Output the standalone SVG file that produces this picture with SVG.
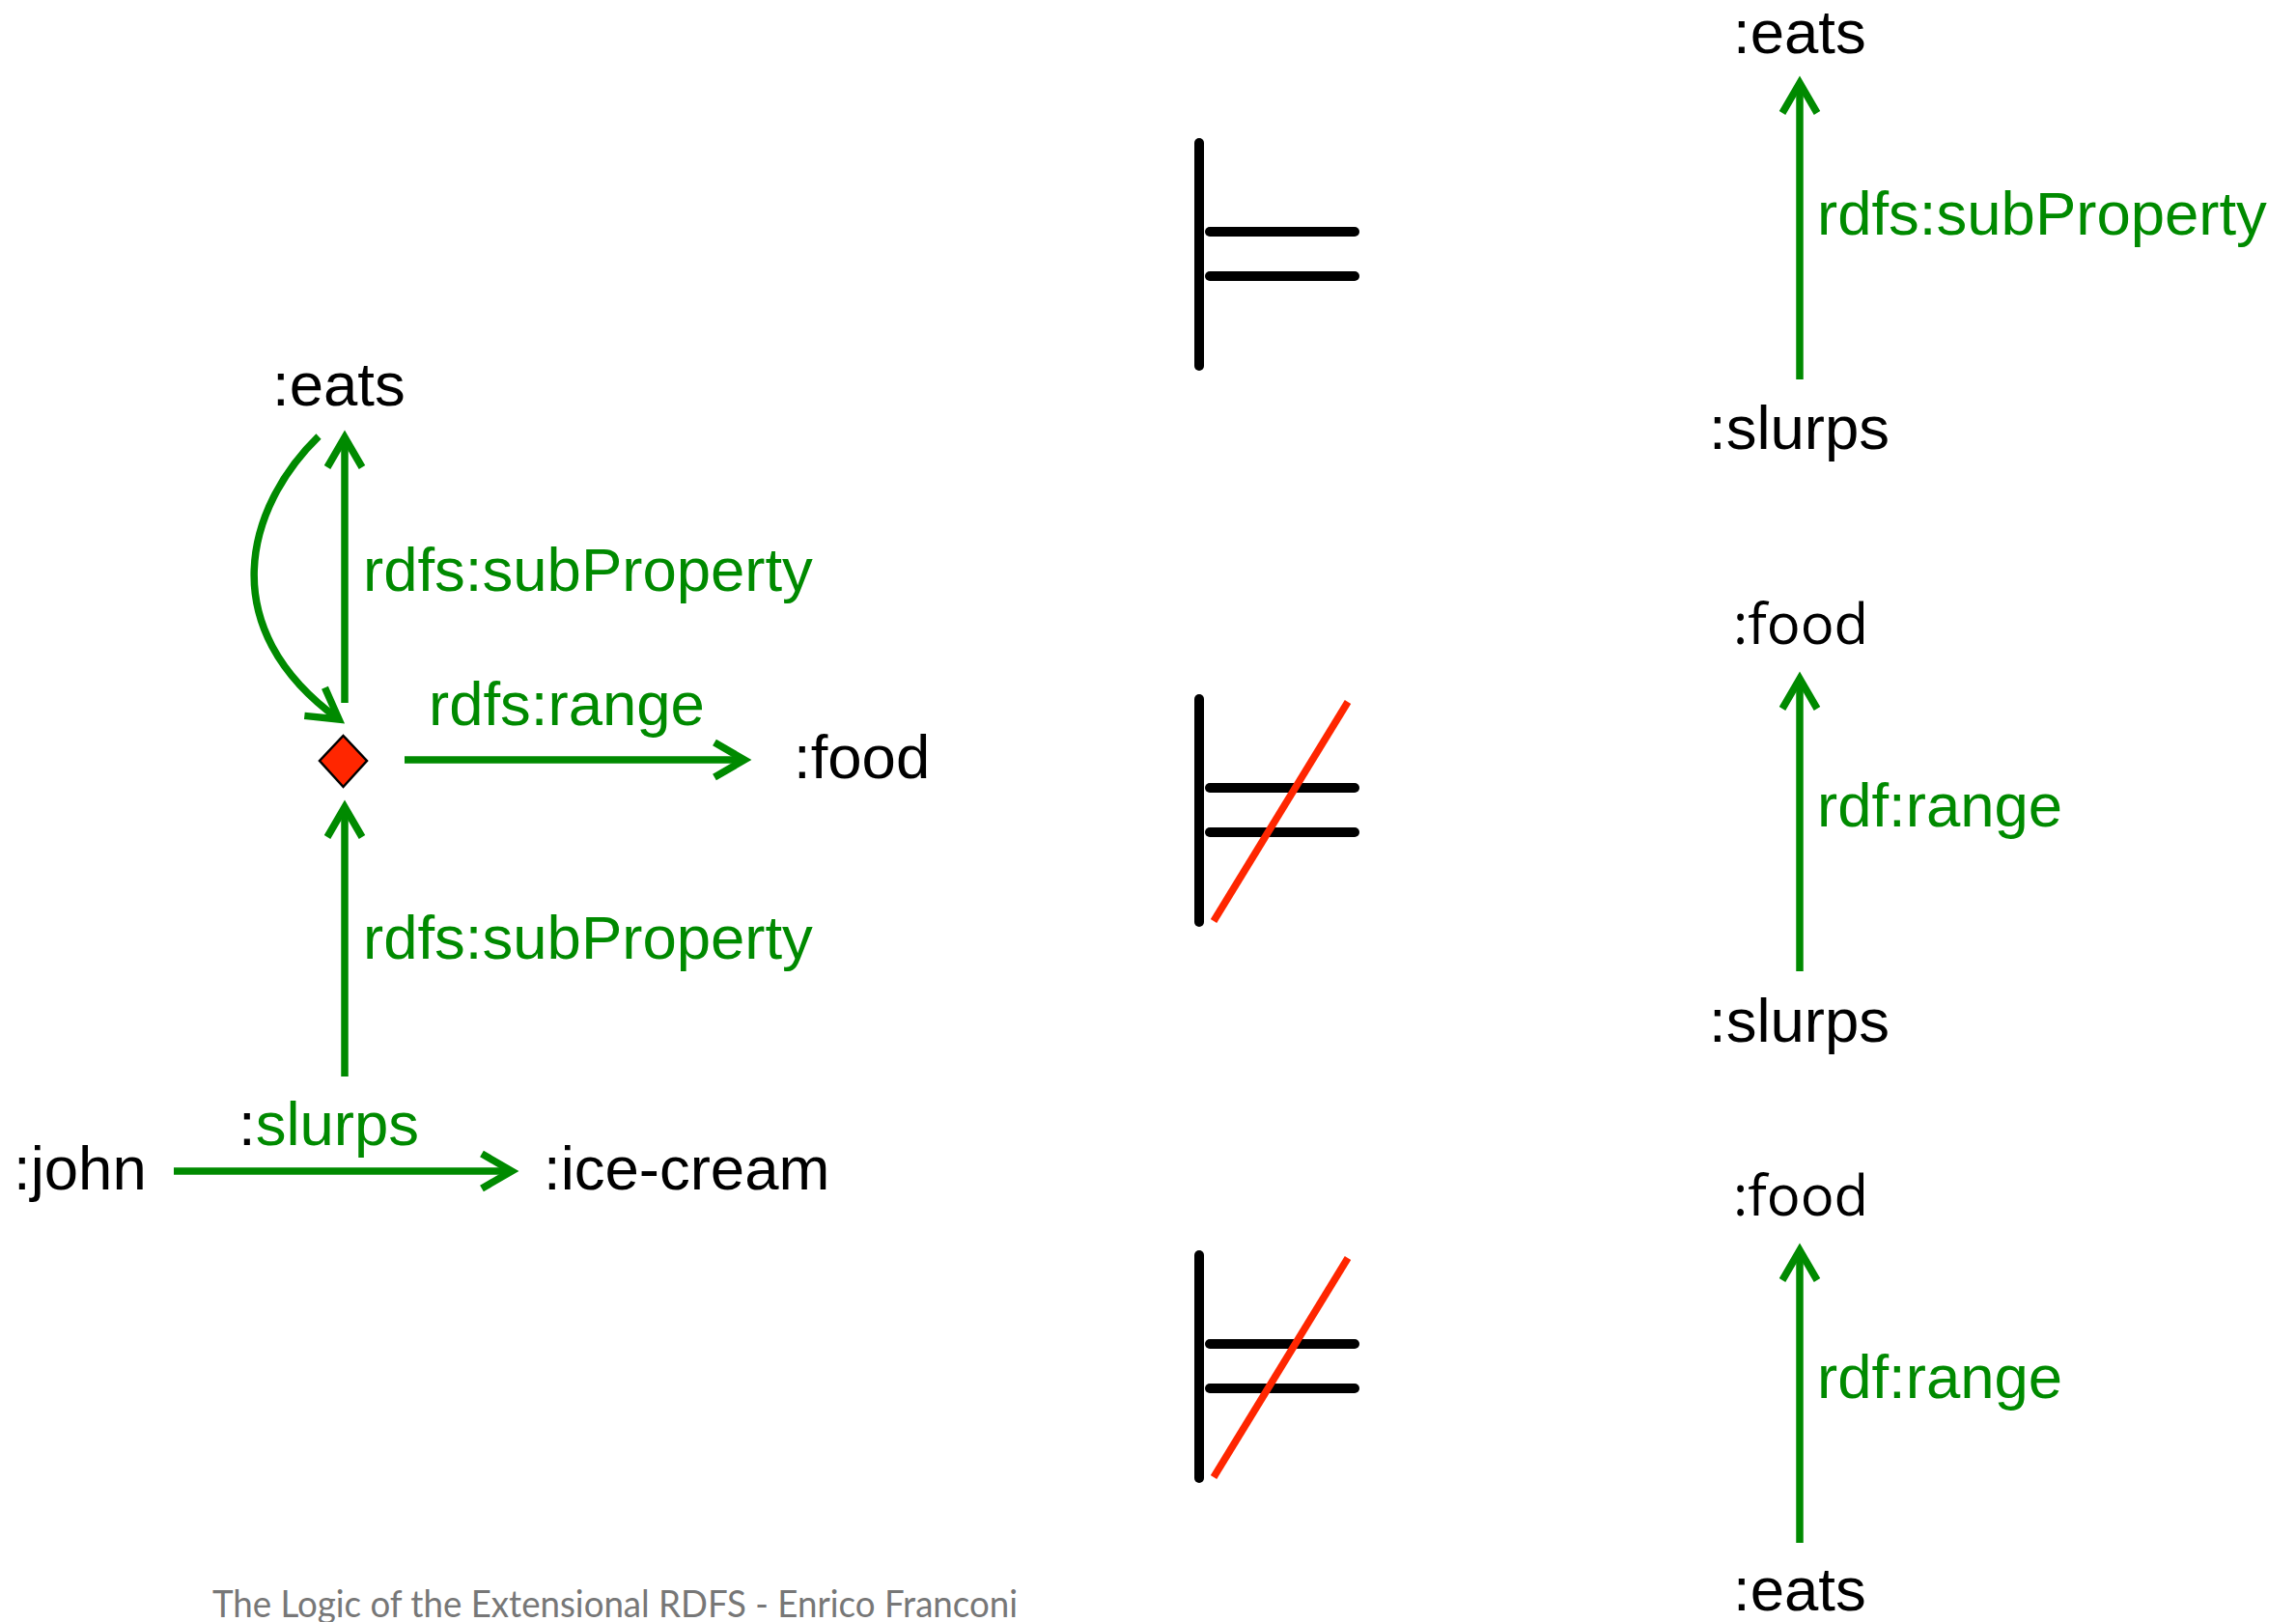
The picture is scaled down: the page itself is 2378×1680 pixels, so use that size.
<svg xmlns="http://www.w3.org/2000/svg" width="2378" height="1680" viewBox="0 0 2378 1680">
<style>
.t{font-family:"Liberation Sans",Arial,sans-serif;font-size:63.5px;fill:#000}
.g{font-family:"Liberation Sans",Arial,sans-serif;font-size:63.5px;fill:#008a00}
.o{font-family:"Open Sans","Liberation Sans",sans-serif;font-size:58px;fill:#000}
.e{fill:none;stroke:#008a00;stroke-width:7.5}
.s{fill:none;stroke:#000;stroke-width:10;stroke-linecap:round}
.x{fill:none;stroke:#ff2600;stroke-width:7.5}
.f{font-family:Lato,"Open Sans",sans-serif;font-size:38px;fill:#777}
</style>
<defs>
<marker id="ah" markerUnits="userSpaceOnUse" markerWidth="60" markerHeight="60" viewBox="-45 -30 60 60" refX="0" refY="0" orient="auto" overflow="visible">
<path d="M-31,-18 L0,0 L-31,18" fill="none" stroke="#008a00" stroke-width="7.5"/>
</marker>
</defs>
<rect width="2378" height="1680" fill="#fff"/>
<g id="connectors">
<line class="e" x1="357" y1="728" x2="357" y2="453" marker-end="url(#ah)"/>
<path class="e" d="M330,452 C255,525 220,650 351,745" marker-end="url(#ah)"/>
<line class="e" x1="419" y1="787" x2="771" y2="787" marker-end="url(#ah)"/>
<line class="e" x1="357" y1="1115" x2="357" y2="836" marker-end="url(#ah)"/>
<line class="e" x1="180" y1="1213" x2="530" y2="1213" marker-end="url(#ah)"/>
<line class="e" x1="1864" y1="393" x2="1864" y2="86" marker-end="url(#ah)"/>
<line class="e" x1="1864" y1="1006" x2="1864" y2="703" marker-end="url(#ah)"/>
<line class="e" x1="1864" y1="1598" x2="1864" y2="1295" marker-end="url(#ah)"/>
</g>
<g id="labels">
<text class="g" x="376" y="612">rdfs:subProperty</text>
<text class="g" x="444" y="751">rdfs:range</text>
<text class="g" x="376" y="993">rdfs:subProperty</text>
<text class="g" x="247" y="1186"><tspan fill="#000">:</tspan>slurps</text>
<text class="g" x="1882" y="243">rdfs:subProperty</text>
<text class="g" x="1882" y="856">rdf:range</text>
<text class="g" x="1882" y="1448">rdf:range</text>
</g>
<g id="node-eats-left"><text class="t" x="282" y="420">:eats</text></g>
<g id="node-blank"><polygon points="355.5,762 380,788 355.5,815 331,788" fill="#ff2600" stroke="#000" stroke-width="2.5"/></g>
<g id="node-food-left"><text class="t" x="822" y="806">:food</text></g>
<g id="node-john"><text class="t" x="14" y="1232">:john</text></g>
<g id="node-icecream"><text class="t" x="563" y="1232">:ice-cream</text></g>
<g id="entails">
<line class="s" x1="1242" y1="148" x2="1242" y2="379"/>
<line class="s" x1="1253" y1="240" x2="1403" y2="240"/>
<line class="s" x1="1253" y1="286" x2="1403" y2="286"/>
</g>
<g id="not-entails-1">
<line class="s" x1="1242" y1="724" x2="1242" y2="955"/>
<line class="s" x1="1253" y1="816" x2="1403" y2="816"/>
<line class="s" x1="1253" y1="862" x2="1403" y2="862"/>
<line class="x" x1="1257" y1="954" x2="1396" y2="727"/>
</g>
<g id="not-entails-2">
<line class="s" x1="1242" y1="1300" x2="1242" y2="1531"/>
<line class="s" x1="1253" y1="1392" x2="1403" y2="1392"/>
<line class="s" x1="1253" y1="1438" x2="1403" y2="1438"/>
<line class="x" x1="1257" y1="1530" x2="1396" y2="1303"/>
</g>
<g id="node-eats-r1"><text class="t" x="1795" y="55">:eats</text></g>
<g id="node-slurps-r1"><text class="t" x="1770" y="465">:slurps</text></g>
<g id="node-food-r2"><text class="o" x="1795" y="667">:food</text></g>
<g id="node-slurps-r2"><text class="t" x="1770" y="1079">:slurps</text></g>
<g id="node-food-r3"><text class="o" x="1795" y="1259">:food</text></g>
<g id="node-eats-r3"><text class="t" x="1795" y="1668">:eats</text></g>
<text class="f" x="220" y="1675" textLength="834" lengthAdjust="spacingAndGlyphs">The Logic of the Extensional RDFS - Enrico Franconi</text>
</svg>
